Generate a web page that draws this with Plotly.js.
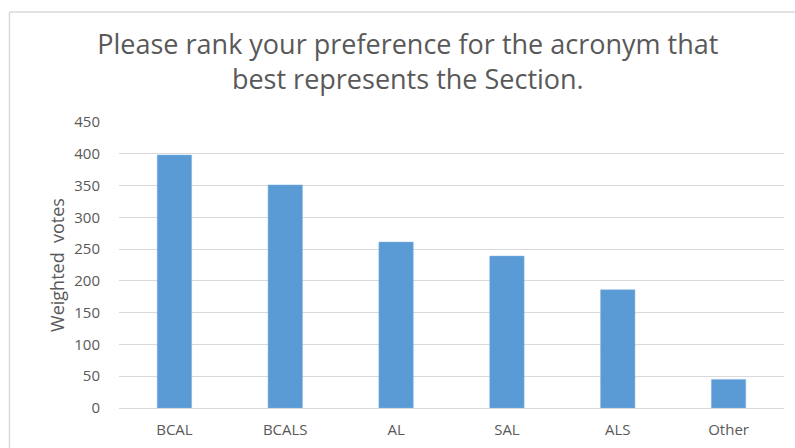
<!DOCTYPE html>
<html>
<head>
<meta charset="utf-8">
<script src="https://cdn.plot.ly/plotly-3.0.1.min.js"></script>
<style>html,body{margin:0;padding:0;background:#fff;}#chart{width:795px;height:448px;}</style>
</head>
<body>
<div id="chart"></div>
<script>
const categories = ["BCAL", "BCALS", "AL", "SAL", "ALS", "Other"];
const weightedVotes = [398, 351, 261, 239, 186, 45];
const yTicks = [0, 50, 100, 150, 200, 250, 300, 350, 400, 450];

const trace = {
  type: "bar",
  x: categories,
  y: weightedVotes,
  marker: {color: "#5B9BD5", line: {color: "#7FB1E0", width: 0.5}},
  hoverinfo: "x+y"
};

const layout = {
  width: 795,
  height: 448,
  margin: {l: 119, r: 11, t: 122, b: 40},
  paper_bgcolor: "#ffffff",
  plot_bgcolor: "#ffffff",
  font: {family: "'Open Sans', sans-serif", color: "#595959", size: 15},
  title: {
    text: "Please rank your preference for the acronym that<br>best represents the Section.",
    font: {family: "'Open Sans', sans-serif", size: 27, color: "#595959"},
    x: 0.513, xanchor: "center",
    y: 0.8805, yanchor: "top"
  },
  bargap: 0.69,
  showlegend: false,
  xaxis: {
    type: "category",
    showgrid: false,
    showline: true,
    linecolor: "#D9D9D9",
    linewidth: 1,
    ticks: "",
    ticklabelstandoff: 8,
    tickfont: {size: 15, color: "#595959"},
    fixedrange: true
  },
  yaxis: {
    range: [0, 450],
    tickvals: yTicks,
    ticktext: yTicks.map(String),
    showgrid: true,
    gridcolor: "#D9D9D9",
    gridwidth: 1,
    zeroline: true,
    zerolinecolor: "#D9D9D9",
    showline: false,
    ticks: "",
    ticklabelstandoff: 18,
    tickfont: {size: 15, color: "#595959"},
    title: {text: "Weighted\u00a0\u00a0votes", font: {size: 18, color: "#595959"}, standoff: 4},
    fixedrange: true
  },
  shapes: [
    {type: "line", xref: "paper", yref: "paper", x0: -0.1647, x1: -0.1647, y0: 1.385, y1: -0.2, line: {color: "#D9D9D9", width: 1.5}},
    {type: "line", xref: "paper", yref: "paper", x0: -0.1647, x1: 1.05, y0: 1.385, y1: 1.385, line: {color: "#D9D9D9", width: 1.5}}
  ]
};

Plotly.newPlot("chart", [trace], layout, {displayModeBar: false, staticPlot: true});
</script>
</body>
</html>
